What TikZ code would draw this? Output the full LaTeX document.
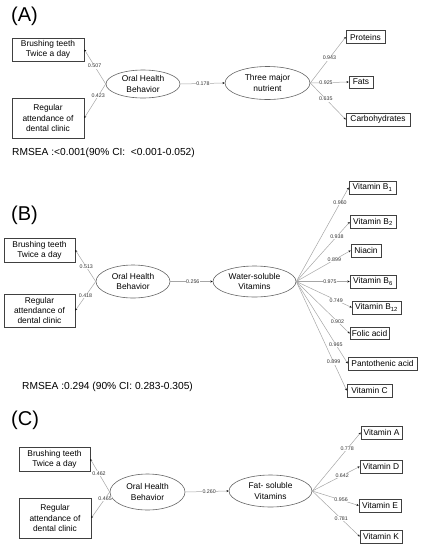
\documentclass[tikz,border=0pt]{standalone}
\usepackage{fontspec}
\setmainfont{Liberation Sans}
\usetikzlibrary{arrows.meta,shapes.geometric}
\begin{document}
\begin{tikzpicture}[x=1pt,y=-1pt,
 box/.style={draw=black!75,line width=0.6pt,inner sep=0pt,align=center,font=\fontsize{8.4}{10.3}\selectfont},
 lat/.style={ellipse,draw=black!60,fill=white,line width=0.6pt,inner sep=0pt,align=center,font=\fontsize{8.4}{10.3}\selectfont},
 conn/.style={draw=black!35,line width=0.5pt,-{Stealth[length=2.2pt,width=2pt,color=black]}},
 lab/.style={fill=white,inner sep=0.6pt,font=\fontsize{5.3}{6}\selectfont,text=black!80},
 panel/.style={font=\fontsize{20}{24}\selectfont,anchor=west,inner sep=0pt},
 fitstat/.style={font=\fontsize{10.2}{12}\selectfont,anchor=west,inner sep=0pt}
]
\useasboundingbox (0,0) rectangle (426,550);
% ---------------- Panel A ----------------
\node[panel] (pa) at (11,16) {(A)};
\node[box,minimum width=72pt,minimum height=23pt] (a1) at (48,49.5) {Brushing teeth\\Twice a day};
\node[box,minimum width=72pt,minimum height=40pt] (a2) at (48,118) {Regular\\attendance of\\dental clinic};
\node[lat,minimum width=74pt,minimum height=28pt] (aoh) at (143,84) {Oral Health\\Behavior};
\node[lat,minimum width=85pt,minimum height=33pt] (atm) at (267.5,83) {Three major\\nutrient};
\node[box,minimum width=39pt,minimum height=13pt] (ap) at (365.5,37) {Proteins};
\node[box,minimum width=24pt,minimum height=12pt] (af) at (361,82) {Fats};
\node[box,minimum width=64pt,minimum height=13pt] (ac) at (378,119.5) {Carbohydrates};
\draw[conn] (aoh.west) -- node[lab,pos=0.52] {0.507} (a1.east);
\draw[conn] (aoh.west) -- node[lab,pos=0.35] {0.423} (a2.east);
\draw[conn] (aoh.east) -- node[lab,pos=0.51] {0.178} (atm.west);
\draw[conn] (atm.east) -- node[lab,pos=0.54] {0.943} (ap.west);
\draw[conn] (atm.east) -- node[lab,pos=0.41] {0.925} (af.west);
\draw[conn] (atm.east) -- node[lab,pos=0.44] {0.635} (ac.west);
\node[fitstat] (ar) at (12,153) {RMSEA :<0.001(90\% CI:\ \ <0.001-0.052)};
% ---------------- Panel B ----------------
\node[panel] (pb) at (11,215) {(B)};
\node[box,minimum width=71pt,minimum height=24pt] (b1) at (39.5,250) {Brushing teeth\\Twice a day};
\node[box,minimum width=71pt,minimum height=33pt] (b2) at (39.5,310.5) {Regular\\attendance of\\dental clinic};
\node[lat,minimum width=74pt,minimum height=33pt] (boh) at (133,281.5) {Oral Health\\Behavior};
\node[lat,minimum width=83pt,minimum height=31pt] (bws) at (254.5,281.5) {Water-soluble\\Vitamins};
\node[box,minimum width=47pt,minimum height=13pt] (v1) at (372.5,187.5) {Vitamin B\textsubscript{1}};
\node[box,minimum width=46pt,minimum height=13pt] (v2) at (373,222) {Vitamin B\textsubscript{2}};
\node[box,minimum width=30pt,minimum height=13pt] (v3) at (366,250.5) {Niacin};
\node[box,minimum width=46pt,minimum height=13pt] (v6) at (373,281.5) {Vitamin B\textsubscript{6}};
\node[box,minimum width=49pt,minimum height=13pt] (v12) at (376.5,307.5) {Vitamin B\textsubscript{12}};
\node[box,minimum width=39pt,minimum height=12pt] (vf) at (369.5,333.5) {Folic acid};
\node[box,minimum width=69pt,minimum height=13pt] (vp) at (382.5,363.5) {Pantothenic acid};
\node[box,minimum width=45pt,minimum height=13pt] (vc) at (369.5,390.5) {Vitamin C};
\draw[conn] (boh.west) -- node[lab,pos=0.46] {0.513} (b1.east);
\draw[conn] (boh.west) -- node[lab,pos=0.5] {0.418} (b2.east);
\draw[conn] (boh.east) -- node[lab,pos=0.53] {0.256} (bws.west);
\draw[conn] (bws.east) -- node[lab,pos=0.835] {0.960} (v1.west);
\draw[conn] (bws.east) -- node[lab,pos=0.76] {0.938} (v2.west);
\draw[conn] (bws.east) -- node[lab,pos=0.7] {0.899} (v3.west);
\draw[conn] (bws.east) -- node[lab,pos=0.63] {0.975} (v6.west);
\draw[conn] (bws.east) -- node[lab,pos=0.72] {0.749} (v12.west);
\draw[conn] (bws.east) -- node[lab,pos=0.77] {0.902} (vf.west);
\draw[conn] (bws.east) -- node[lab,pos=0.77] {0.965} (vp.west);
\draw[conn] (bws.east) -- node[lab,pos=0.74] {0.899} (vc.west);
\node[fitstat] (br) at (22,387) {RMSEA :0.294 (90\% CI: 0.283-0.305)};
% ---------------- Panel C ----------------
\node[panel] (pc) at (11,420) {(C)};
\node[box,minimum width=71pt,minimum height=24pt] (c1) at (54.5,459) {Brushing teeth\\Twice a day};
\node[box,minimum width=72pt,minimum height=40pt] (c2) at (55,518) {Regular\\attendance of\\dental clinic};
\node[lat,minimum width=75pt,minimum height=36pt] (coh) at (147.5,492) {Oral Health\\Behavior};
\node[lat,minimum width=83pt,minimum height=32pt] (cfs) at (270.5,491) {Fat- soluble\\Vitamins};
\node[box,minimum width=41pt,minimum height=13pt] (ca) at (381.5,432.5) {Vitamin A};
\node[box,minimum width=42pt,minimum height=13pt] (cd) at (381,466.5) {Vitamin D};
\node[box,minimum width=42pt,minimum height=13pt] (ce) at (380,505.5) {Vitamin E};
\node[box,minimum width=42pt,minimum height=13pt] (ck) at (381,536.5) {Vitamin K};
\draw[conn] (coh.west) -- node[lab,pos=0.55] {0.462} (c1.east);
\draw[conn] (coh.west) -- node[lab,pos=0.25] {0.465} (c2.east);
\draw[conn] (coh.east) -- node[lab,pos=0.55] {0.260} (cfs.west);
\draw[conn] (cfs.east) -- node[lab,pos=0.72] {0.778} (ca.west);
\draw[conn] (cfs.east) -- node[lab,pos=0.63] {0.642} (cd.west);
\draw[conn] (cfs.east) -- node[lab,pos=0.62] {0.956} (ce.west);
\draw[conn] (cfs.east) -- node[lab,pos=0.61] {0.781} (ck.west);
\end{tikzpicture}
\end{document}
